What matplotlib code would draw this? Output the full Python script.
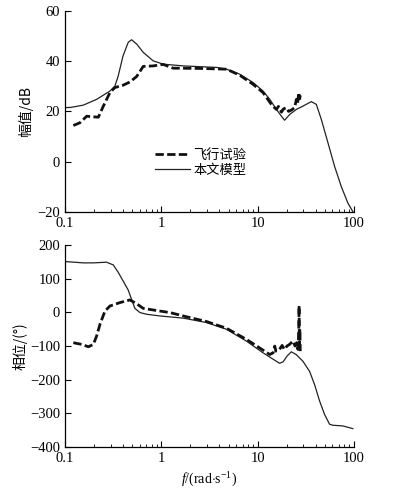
import numpy as np
import matplotlib
matplotlib.use('Agg')
import matplotlib.pyplot as plt
from matplotlib.ticker import LogLocator, NullFormatter, FixedLocator

plt.rcParams['font.family'] = ['Liberation Serif', 'Noto Sans CJK SC', 'DejaVu Sans']
plt.rcParams['mathtext.fontset'] = 'custom'
plt.rcParams['mathtext.rm'] = 'Liberation Serif'
plt.rcParams['mathtext.it'] = 'Liberation Serif:italic'

# 幅值 - 本文模型
f_mag_model = [0.1, 0.115, 0.155, 0.213, 0.293, 0.33, 0.357, 0.40, 0.454, 0.492, 0.555,
               0.649, 0.824, 1.047, 1.69, 3.75, 4.76, 6.53, 8.98, 11.4, 13.4, 15.7,
               17.7, 19.1, 21.6, 25.3, 29.6, 36.2, 40.8, 46.0, 53.9, 63.2, 74.1, 86.9, 97.9]
mag_model = [21.5, 21.6, 22.5, 24.8, 28.1, 30.1, 34.1, 42.0, 47.5, 48.5, 46.8,
             43.5, 40.1, 38.8, 38.1, 37.5, 36.8, 34.8, 31.5, 28.1, 24.8, 20.8,
             18.1, 16.5, 18.8, 20.8, 22.1, 23.9, 22.8, 16.8, 7.5, -1.9, -9.9, -16.5, -19.9]

# 幅值 - 飞行试验
f_mag_test = [0.122, 0.143, 0.168, 0.189, 0.222, 0.25, 0.293, 0.33, 0.40, 0.472, 0.555,
              0.649, 0.824, 1.047, 1.33, 2.51, 4.76, 6.53, 8.98, 11.4, 13.9, 15.0, 15.7,
              16.5, 17.7, 18.6, 19.9, 21.0, 22.4, 24.3, 25.3, 26.0, 26.8, 27.4, 28.0]
mag_test = [14.4, 15.5, 18.1, 17.9, 17.7, 22.1, 27.5, 29.5, 30.4, 31.7, 33.9,
            37.9, 38.1, 38.7, 37.2, 37.1, 36.8, 34.4, 30.8, 27.5, 22.8, 21.5, 20.8,
            22.0, 19.7, 21.0, 21.5, 20.0, 20.5, 21.5, 24.8, 23.0, 27.5, 25.0, 27.0]

# 相位 - 本文模型
f_ph_model = [0.1, 0.155, 0.197, 0.270, 0.317, 0.357, 0.40, 0.454, 0.491, 0.532, 0.60,
              0.703, 0.966, 1.69, 2.94, 4.75, 7.65, 11.4, 16.9, 18.4, 20.2, 22.4, 25.2,
              29.6, 34.7, 39.1, 44.1, 49.7, 56.0, 60.6, 77.0, 97.7]
ph_model = [151, 147, 147, 149, 141, 119, 94, 66, 39, 12, -0.5,
            -5.5, -10.5, -17, -30, -50, -85, -120, -151, -147, -130, -117, -125,
            -145, -175, -214, -263, -303, -332, -335, -337, -345]

# 相位 - 飞行试验
f_ph_test = [0.122, 0.149, 0.175, 0.197, 0.213, 0.231, 0.26, 0.293, 0.371, 0.472, 0.553,
             0.649, 0.966, 1.23, 1.83, 2.94, 4.75, 7.65, 11.4, 13.4, 14.5, 15.1, 15.5,
             16.9, 18.0, 19.0, 20.2, 21.5, 23.3, 24.5, 25.5, 26.3, 26.8, 27.0, 27.2, 27.5, 27.8]
ph_test = [-90, -95, -102, -95, -70, -35, 4, 19, 29, 37, 26,
           12, 4, -0.5, -13, -27, -47, -80, -112, -125, -120, -100, -115,
           -110, -98, -110, -100, -95, -85, -100, -90, -110, -60, 20, -115, -50, -115]

fig = plt.figure(figsize=(3.94, 4.93), dpi=100)
ax1 = fig.add_axes([0.165, 0.570, 0.733, 0.408])
ax2 = fig.add_axes([0.165, 0.093, 0.733, 0.410])

ax1.plot(f_mag_model, mag_model, color='#222222', lw=0.9, label='本文模型')
ax1.plot(f_mag_test, mag_test, color='#111111', lw=2.0, ls=(0, (3, 1.2)), label='飞行试验')
ax2.plot(f_ph_model, ph_model, color='#222222', lw=0.9)
ax2.plot(f_ph_test, ph_test, color='#111111', lw=2.0, ls=(0, (3, 1.2)))

for ax in (ax1, ax2):
    ax.set_xscale('log')
    ax.set_xlim(0.1, 100)
    ax.spines['top'].set_visible(False)
    ax.spines['right'].set_visible(False)
    ax.spines['left'].set_linewidth(0.9)
    ax.spines['bottom'].set_linewidth(0.9)
    ax.xaxis.set_major_locator(FixedLocator([0.1, 1, 10, 100]))
    ax.set_xticklabels(['0.1', '1', '10', '100'])
    ax.xaxis.set_minor_locator(LogLocator(base=10, subs=np.arange(2, 10)))
    ax.xaxis.set_minor_formatter(NullFormatter())
    ax.tick_params(which='both', direction='in', labelsize=10.5)
    ax.tick_params(which='major', length=4)
    ax.tick_params(which='minor', length=2.5)

ax1.set_ylim(-20, 60)
ax1.set_yticks([-20, 0, 20, 40, 60])
ax1.set_yticklabels(['\u221220', '0', '20', '40', '60'])
ax1.set_ylabel('幅值/dB', fontsize=10, family=['Noto Sans CJK SC', 'DejaVu Sans'])
ax1.yaxis.set_label_coords(-0.11, 0.5)

ax2.set_ylim(-400, 200)
ax2.set_yticks([-400, -300, -200, -100, 0, 100, 200])
ax2.set_yticklabels(['\u2212400', '\u2212300', '\u2212200', '\u2212100', '0', '100', '200'])
ax2.set_ylabel('相位/(°)', fontsize=10, family=['Noto Sans CJK SC', 'DejaVu Sans'])
ax2.yaxis.set_label_coords(-0.128, 0.5)
ax2.set_xlabel(r'$\it{f}$/(rad$\cdot$s$^{-1}$)', fontsize=10)

handles, labels = ax1.get_legend_handles_labels()
leg = ax1.legend(handles[::-1], labels[::-1], loc='upper left', bbox_to_anchor=(0.27, 0.375),
                 frameon=False, handlelength=2.7, handletextpad=0.2, labelspacing=0.2,
                 prop={'family': ['Noto Sans CJK SC'], 'size': 9.5})

fig.savefig('out.png', dpi=100)
